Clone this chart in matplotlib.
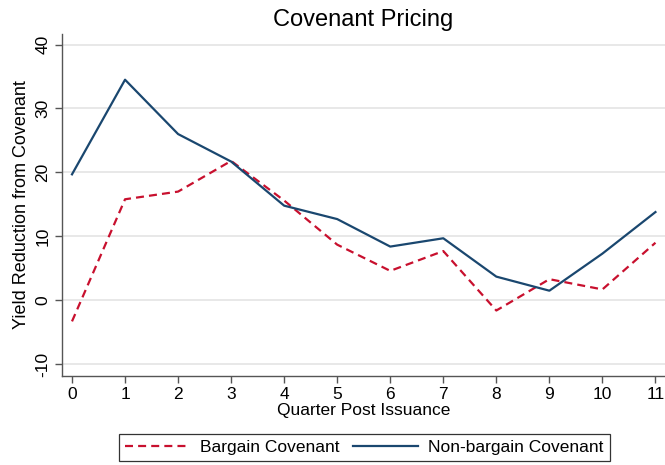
import matplotlib
matplotlib.use("Agg")
import matplotlib.pyplot as plt

plt.rcParams['font.family'] = ['Liberation Sans', 'DejaVu Sans']

quarters = [0, 1, 2, 3, 4, 5, 6, 7, 8, 9, 10, 11]
bargain = [-3.3, 15.8, 17.0, 21.8, 15.6, 8.7, 4.6, 7.7, -1.6, 3.3, 1.7, 9.0]
non_bargain = [19.7, 34.5, 26.0, 21.7, 14.8, 12.7, 8.4, 9.7, 3.7, 1.5, 7.3, 13.8]
yticks = [-10, 0, 10, 20, 30, 40]

fig = plt.figure(figsize=(6.65, 4.65), dpi=100)
ax = fig.add_axes([0.0928, 0.192, 1 - 0.0928, 0.927 - 0.192])

red = '#c8102e'
navy = '#1a476f'
lw = 1.6
ax.plot(quarters, bargain, color=red, lw=lw, dashes=(3.6, 2.3), label='Bargain Covenant', zorder=3)
ax.plot(quarters, non_bargain, color=navy, lw=lw, label='Non-bargain Covenant', zorder=3)

ax.set_xlim(-0.194, 11.18)
ax.set_ylim(-11.8, 41.66)
ax.set_xticks(quarters)
ax.set_yticks(yticks)
ax.set_yticklabels([str(v) for v in yticks], rotation=90, va='center')
ax.tick_params(axis='both', direction='out', length=5, width=1, color='#555555',
               labelsize=12.5, pad=3)
ax.yaxis.grid(True, color='#e6e6e6', lw=1.3, zorder=0)
ax.set_axisbelow(True)
for s in ['top', 'right']:
    ax.spines[s].set_visible(False)
for s in ['left', 'bottom']:
    ax.spines[s].set_color('#555555')
    ax.spines[s].set_linewidth(1.0)

ax.set_xlabel('Quarter Post Issuance', fontsize=12.5, labelpad=1)
ax.set_ylabel('Yield Reduction from Covenant', fontsize=13, labelpad=4)
ax.set_title('Covenant Pricing', fontsize=17, pad=6)

leg = fig.legend(loc='center', bbox_to_anchor=(0.548, 0.037), ncol=2, fontsize=12.5,
                 frameon=True, fancybox=False, edgecolor='black', handlelength=3.7,
                 handletextpad=0.6, columnspacing=0.8, borderpad=0.35, borderaxespad=0)
leg.get_frame().set_linewidth(0.9)

fig.savefig('out.png', dpi=100)
